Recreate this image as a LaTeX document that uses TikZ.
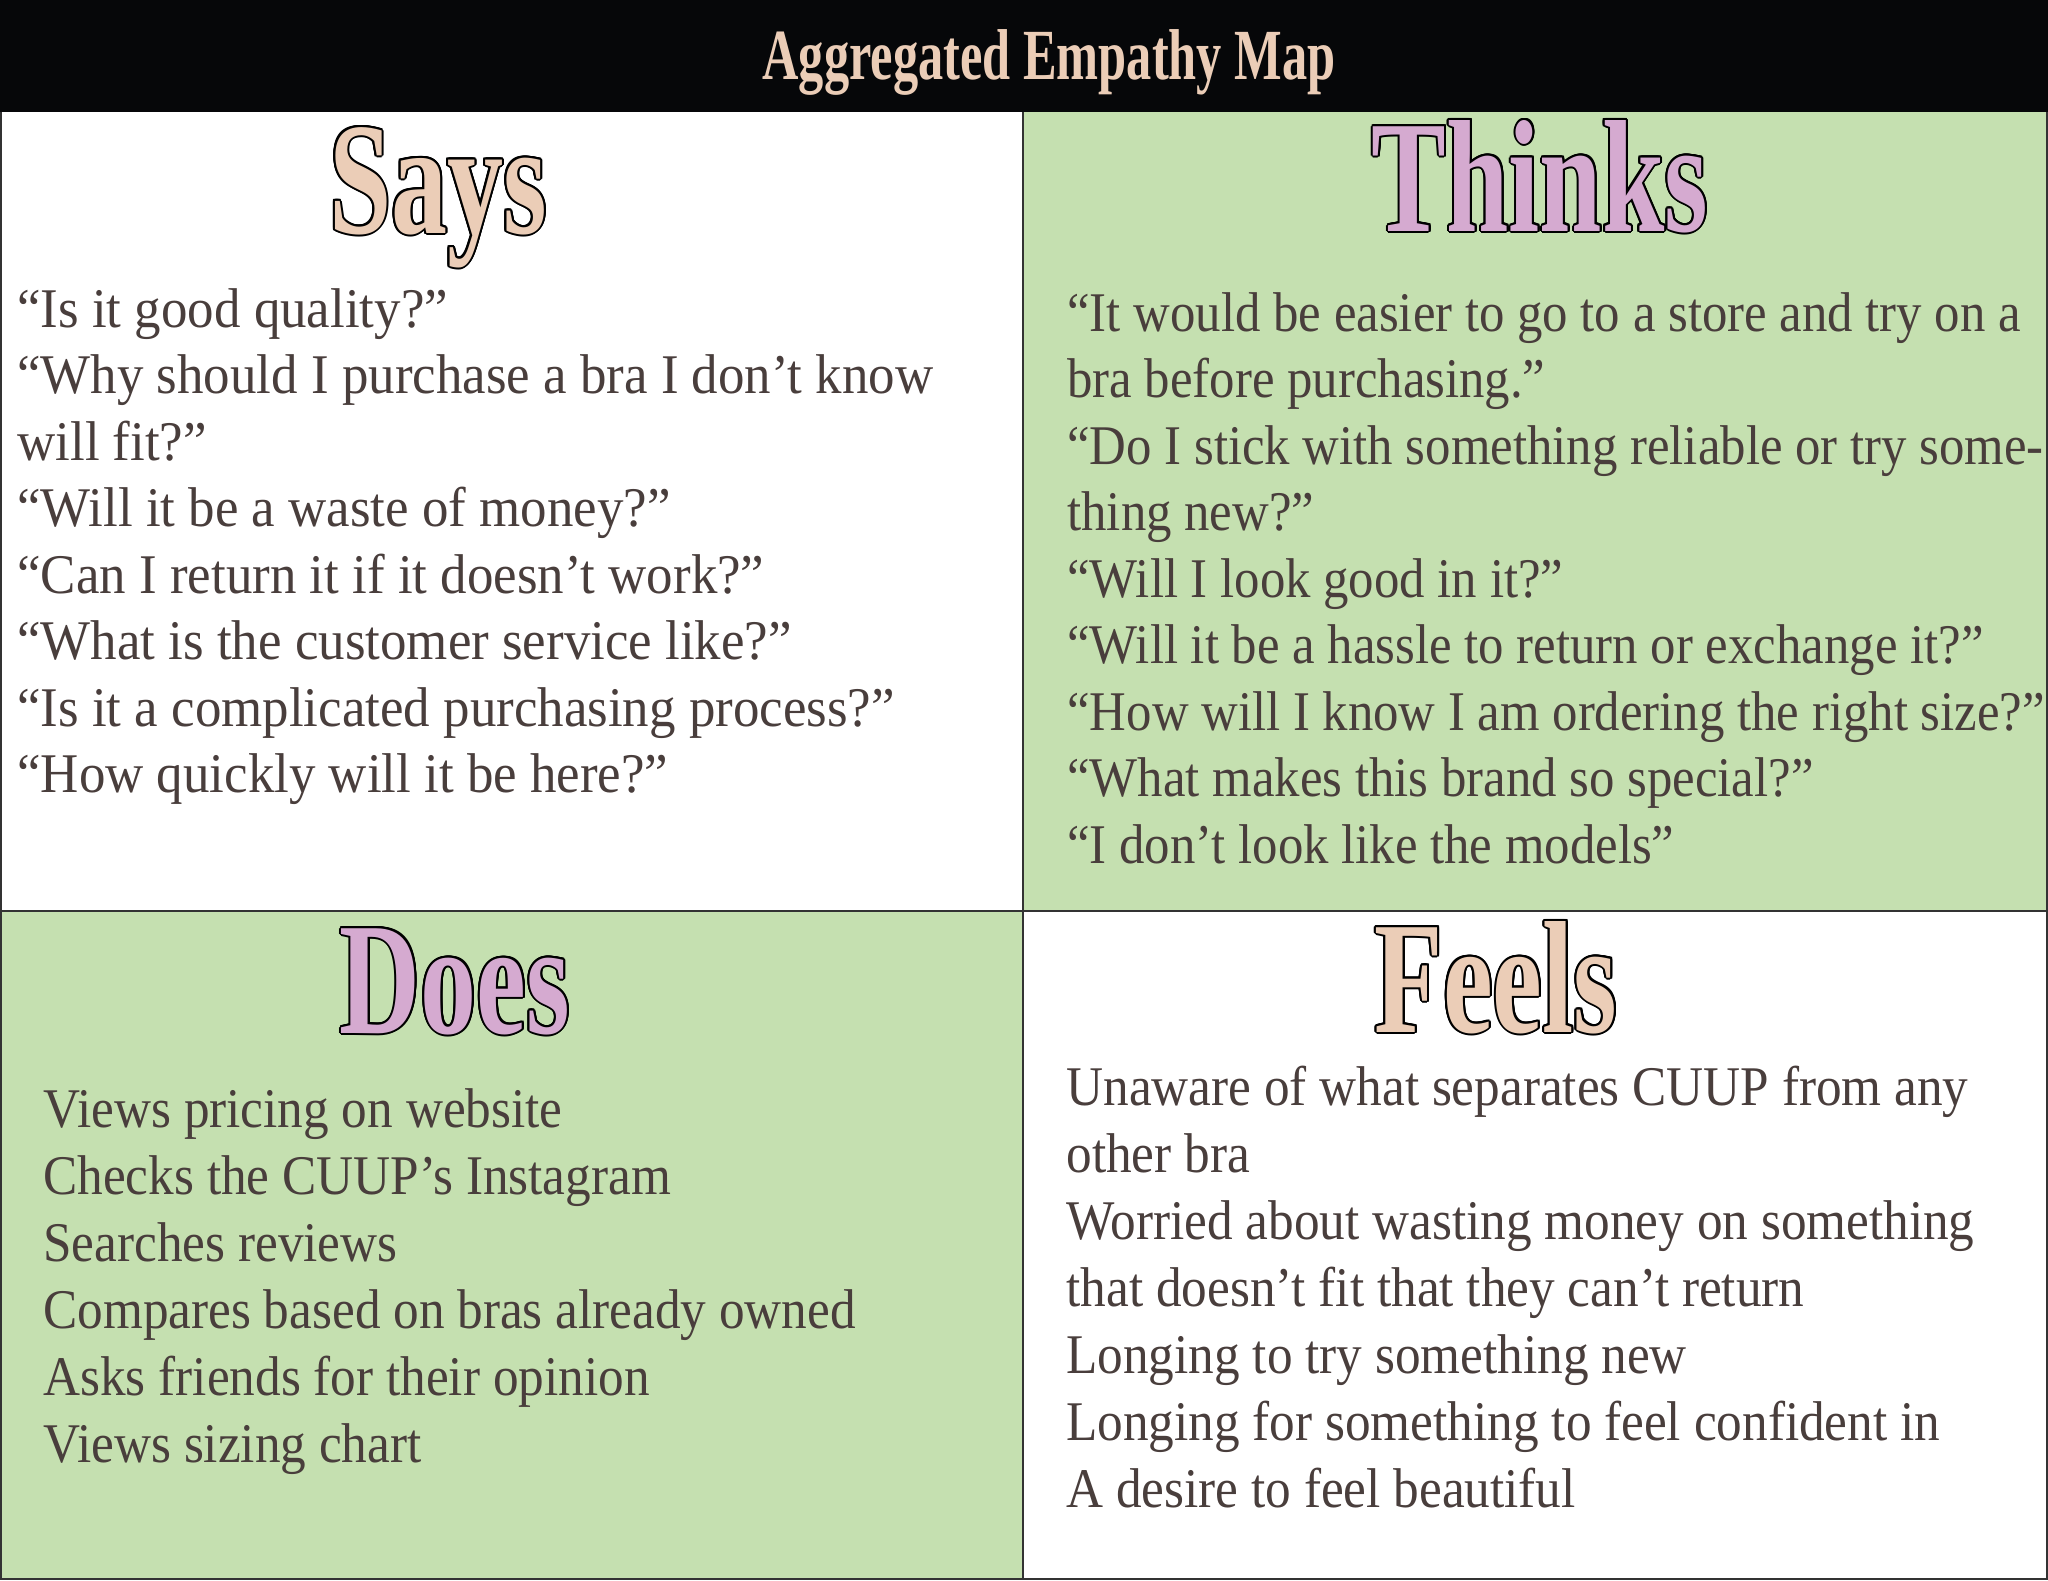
\documentclass[tikz,border=0pt]{standalone}
\usepackage{fontspec}
\setmainfont{Liberation Serif}
% slightly condensed text faces for the quadrant contents
\newfontfamily\bodyA[FakeStretch=0.945]{Liberation Serif}
\newfontfamily\bodyB[FakeStretch=0.915]{Liberation Serif}
\newfontfamily\bodyC[FakeStretch=0.907]{Liberation Serif}
% condensed heavy serif for the title and the four quadrant headings
\newfontfamily\headfont[FakeStretch=0.70,UprightFont=* Bold]{Liberation Serif}

\definecolor{band}{HTML}{060709}
\definecolor{peach}{HTML}{EBCDB7}
\definecolor{orchid}{HTML}{D5AAD0}
\definecolor{sage}{HTML}{C5E0B0}
\definecolor{ink}{HTML}{493E3C}
\definecolor{rulecol}{HTML}{333333}

% text with a thin black outline, built from offset copies
\newlength\olen
\setlength\olen{1pt}
\newcommand\outlined[2]{%
  \leavevmode\rlap{\color{black}%
    \foreach \dx/\dy in {1/0,0.92/0.38,0.71/0.71,0.38/0.92,0/1,-0.38/0.92,-0.71/0.71,-0.92/0.38,%
                         -1/0,-0.92/-0.38,-0.71/-0.71,-0.38/-0.92,0/-1,0.38/-0.92,0.71/-0.71,0.92/-0.38}%
      {\rlap{\kern\dx\olen\raisebox{\dy\olen}{#2}}}}%
  \textcolor{#1}{#2}}

\tikzset{
  heading/.style={font=\headfont\fontsize{80}{80}\selectfont, anchor=base, inner sep=0pt},
  titletext/.style={font=\headfont\fontsize{36}{36}\selectfont, text=peach, anchor=base, inner sep=0pt},
  % anchored at the baseline of the last line
  bodytext/.style={font=\bodyA\fontsize{28}{33.25}\selectfont, text=ink, align=left, anchor=base west, inner sep=0pt},
  bodynarrow/.style={bodytext, font=\bodyC\fontsize{28}{33.25}\selectfont},
  bodywide/.style={bodytext, font=\bodyB\fontsize{28}{33.5}\selectfont},
  rule/.style={draw=rulecol, line width=1.3pt},
}

\begin{document}
\begin{tikzpicture}[x=0.5pt, y=-0.5pt]
\path[use as bounding box] (0,0) rectangle (2048,1580);

% header band and the four quadrants
\fill[band]  (0,0)     rectangle (2048,112);
\fill[white] (0,112)   rectangle (1023,911);
\fill[sage]  (1023,112) rectangle (2048,911);
\fill[sage]  (0,911)   rectangle (1023,1580);
\fill[white] (1023,911) rectangle (2048,1580);

% grid lines and frame
\draw[rule] (1023,112) -- (1023,1580);
\draw[rule] (0,911) -- (2048,911);
\draw[rule] (1,112) -- (1,1579) -- (2047,1579) -- (2047,112);

% title
\node[titletext] (title) at (1049,79) {Aggregated Empathy Map};

% quadrant headings
\node[heading] (says)   at (438,233)   {\outlined{peach}{Says}};
\node[heading] (thinks) at (1540,231)  {\outlined{orchid}{Thinks}};
\node[heading] (does)   at (455,1033)  {\outlined{orchid}{Does}};
\node[heading] (feels)  at (1496,1032) {\outlined{peach}{Feels}};

% quadrant contents
\node[bodytext] (saystext) at (17,792.5) {%
“Is it good quality?”\\
“Why should I purchase a bra I don’t know\\
will fit?”\\
“Will it be a waste of money?”\\
“Can I return it if it doesn’t work?”\\
“What is the customer service like?”\\
“Is it a complicated purchasing process?”\\
“How quickly will it be here?”};

\node[bodynarrow] (thinkstext) at (1067,863) {%
“It would be easier to go to a store and try on a\\
bra before purchasing.”\\
“Do I stick with something reliable or try some-\\
thing new?”\\
“Will I look good in it?”\\
“Will it be a hassle to return or exchange it?”\\
“How will I know I am ordering the right size?”\\
“What makes this brand so special?”\\
“I don’t look like the models”};

\node[bodywide] (doestext) at (43,1462) {%
Views pricing on website\\
Checks the CUUP’s Instagram\\
Searches reviews\\
Compares based on bras already owned\\
Asks friends for their opinion\\
Views sizing chart};

\node[bodywide] (feelstext) at (1066,1507) {%
Unaware of what separates CUUP from any\\
other bra\\
Worried about wasting money on something\\
that doesn’t fit that they can’t return\\
Longing to try something new\\
Longing for something to feel confident in\\
A desire to feel beautiful};
\end{tikzpicture}
\end{document}
